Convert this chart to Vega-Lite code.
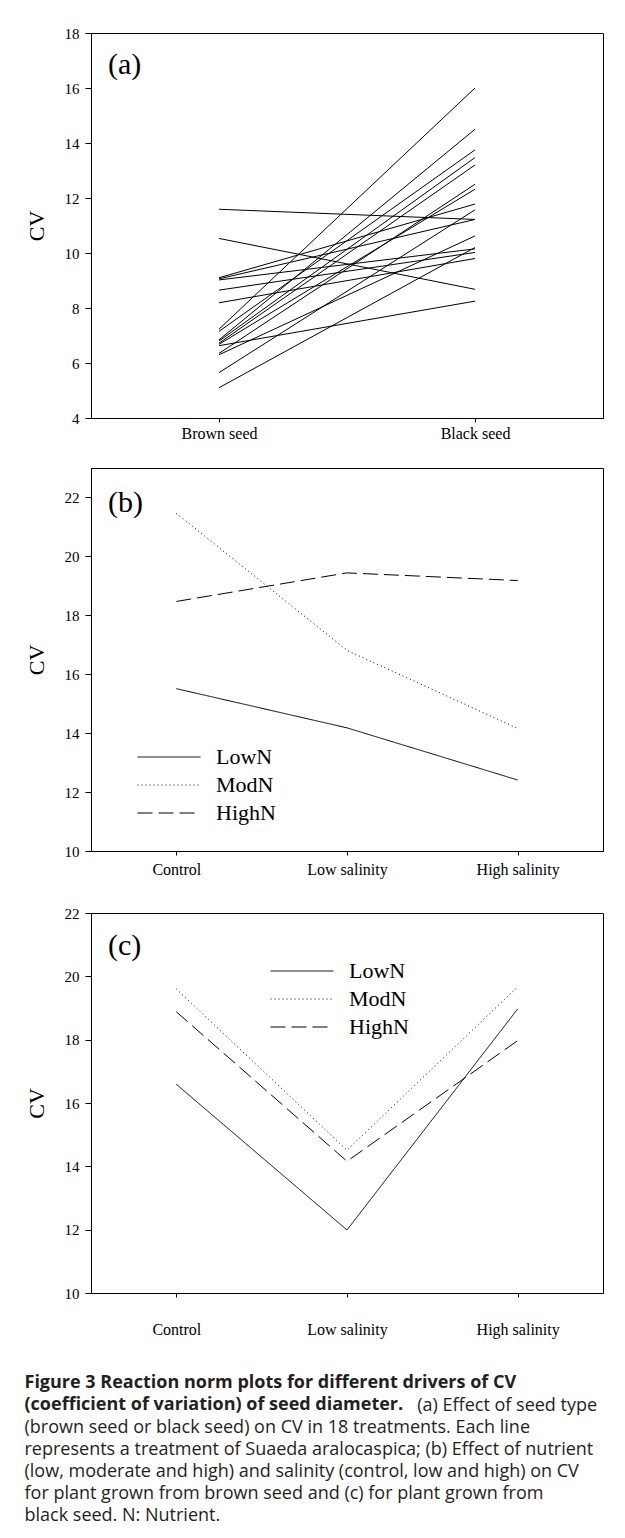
{
  "$schema": "https://vega.github.io/schema/vega-lite/v6.json",
  "padding": {"left": 24, "top": 25, "right": 5, "bottom": 5},
  "background": "white",
  "config": {
    "view": {"stroke": "black", "strokeWidth": 1},
    "axis": {"grid": false, "domainColor": "black", "tickColor": "black", "labelColor": "black", "titleColor": "black", "labelFont": "Liberation Serif", "titleFont": "Liberation Serif", "titleFontWeight": "normal"},
    "axisY": {"labelFontSize": 15, "tickSize": 6, "labelPadding": 6, "titleFontSize": 22, "titlePadding": 16},
    "axisX": {"labelFontSize": 16, "tickSize": 4, "labelAngle": 0},
    "legend": {"title": null, "orient": "none", "labelFont": "Liberation Serif", "labelFontSize": 22, "labelColor": "black", "symbolType": "M-3,0H3", "symbolSize": 441, "symbolStrokeWidth": 1, "symbolStrokeColor": "black", "labelOffset": 36, "rowPadding": 6, "padding": 0},
    "title": {"font": "Liberation Serif", "fontSize": 30, "fontWeight": "normal", "anchor": "start", "color": "black", "frame": "group", "dx": 17, "baseline": "alphabetic"}
  },
  "title": {
    "text": ["Figure 3 Reaction norm plots for different drivers of CV", "(coefficient of variation) of seed diameter."],
    "subtitle": ["\u200b\u00a0\u00a0\u00a0\u00a0\u00a0\u00a0\u00a0\u00a0\u00a0\u00a0\u00a0\u00a0\u00a0\u00a0\u00a0\u00a0\u00a0\u00a0\u00a0\u00a0\u00a0\u00a0\u00a0\u00a0\u00a0\u00a0\u00a0\u00a0\u00a0\u00a0\u00a0\u00a0\u00a0\u00a0\u00a0\u00a0\u00a0\u00a0\u00a0\u00a0\u00a0\u00a0\u00a0\u00a0\u00a0\u00a0\u00a0\u00a0\u00a0\u00a0\u00a0\u00a0\u00a0\u00a0\u00a0\u00a0\u00a0\u00a0\u00a0\u00a0\u00a0\u00a0\u00a0\u00a0\u00a0\u00a0\u00a0\u00a0\u00a0\u00a0\u00a0\u00a0\u00a0\u00a0\u00a0\u00a0\u00a0\u00a0\u00a0\u00a0\u00a0\u00a0\u00a0\u00a0(a) Effect of seed type", "(brown seed or black seed) on CV in 18 treatments. Each line", "represents a treatment of Suaeda aralocaspica; (b) Effect of nutrient", "(low, moderate and high) and salinity (control, low and high) on CV", "for plant grown from brown seed and (c) for plant grown from", "black seed. N: Nutrient."],
    "orient": "bottom",
    "anchor": "start",
    "frame": "bounds",
    "baseline": "top",
    "font": "Open Sans",
    "fontSize": 18,
    "fontWeight": "bold",
    "color": "#231f20",
    "lineHeight": 22,
    "subtitleFont": "Open Sans",
    "subtitleFontSize": 18,
    "subtitleFontWeight": "normal",
    "subtitleColor": "#231f20",
    "subtitleLineHeight": 22,
    "subtitlePadding": -17,
    "offset": 36,
    "dx": 0,
    "dy": 0
  },
  "spacing": 25,
  "resolve": {"scale": {"strokeDash": "independent"}, "legend": {"strokeDash": "independent"}},
  "vconcat": [
    {
      "width": 512,
      "height": 385,
      "title": {"text": "(a)", "offset": -54},
      "data": {"values": [
        {"treatment": 1, "seed": "Brown seed", "CV": 11.59}, {"treatment": 1, "seed": "Black seed", "CV": 11.22},
        {"treatment": 2, "seed": "Brown seed", "CV": 10.53}, {"treatment": 2, "seed": "Black seed", "CV": 8.68},
        {"treatment": 3, "seed": "Brown seed", "CV": 9.10}, {"treatment": 3, "seed": "Black seed", "CV": 11.78},
        {"treatment": 4, "seed": "Brown seed", "CV": 9.06}, {"treatment": 4, "seed": "Black seed", "CV": 11.22},
        {"treatment": 5, "seed": "Brown seed", "CV": 9.02}, {"treatment": 5, "seed": "Black seed", "CV": 10.15},
        {"treatment": 6, "seed": "Brown seed", "CV": 8.65}, {"treatment": 6, "seed": "Black seed", "CV": 10.02},
        {"treatment": 7, "seed": "Brown seed", "CV": 8.19}, {"treatment": 7, "seed": "Black seed", "CV": 9.80},
        {"treatment": 8, "seed": "Brown seed", "CV": 7.23}, {"treatment": 8, "seed": "Black seed", "CV": 16.0},
        {"treatment": 9, "seed": "Brown seed", "CV": 7.15}, {"treatment": 9, "seed": "Black seed", "CV": 13.75},
        {"treatment": 10, "seed": "Brown seed", "CV": 6.84}, {"treatment": 10, "seed": "Black seed", "CV": 14.50},
        {"treatment": 11, "seed": "Brown seed", "CV": 6.80}, {"treatment": 11, "seed": "Black seed", "CV": 13.47},
        {"treatment": 12, "seed": "Brown seed", "CV": 6.72}, {"treatment": 12, "seed": "Black seed", "CV": 13.2},
        {"treatment": 13, "seed": "Brown seed", "CV": 6.68}, {"treatment": 13, "seed": "Black seed", "CV": 12.32},
        {"treatment": 14, "seed": "Brown seed", "CV": 6.63}, {"treatment": 14, "seed": "Black seed", "CV": 8.25},
        {"treatment": 15, "seed": "Brown seed", "CV": 6.35}, {"treatment": 15, "seed": "Black seed", "CV": 12.5},
        {"treatment": 16, "seed": "Brown seed", "CV": 6.30}, {"treatment": 16, "seed": "Black seed", "CV": 10.62},
        {"treatment": 17, "seed": "Brown seed", "CV": 5.65}, {"treatment": 17, "seed": "Black seed", "CV": 11.57},
        {"treatment": 18, "seed": "Brown seed", "CV": 5.10}, {"treatment": 18, "seed": "Black seed", "CV": 10.2}
      ]},
      "mark": {"type": "line", "color": "black", "strokeWidth": 1},
      "encoding": {
        "x": {"field": "seed", "type": "nominal", "sort": ["Brown seed", "Black seed"], "scale": {"type": "point", "padding": 0.5}, "axis": {"title": null, "labelPadding": 3}},
        "y": {"field": "CV", "type": "quantitative", "scale": {"domain": [4, 18], "nice": false, "zero": false}, "axis": {"values": [4, 6, 8, 10, 12, 14, 16, 18], "title": "CV"}},
        "detail": {"field": "treatment", "type": "nominal"}
      }
    },
    {
      "spacing": 27,
      "resolve": {"scale": {"strokeDash": "independent"}, "legend": {"strokeDash": "independent"}},
      "vconcat": [
        {
          "width": 512,
          "height": 383,
          "title": {"text": "(b)", "offset": -50},
          "data": {"values": [
            {"N": "LowN", "salinity": "Control", "CV": 15.51}, {"N": "LowN", "salinity": "Low salinity", "CV": 14.18}, {"N": "LowN", "salinity": "High salinity", "CV": 12.41},
            {"N": "ModN", "salinity": "Control", "CV": 21.46}, {"N": "ModN", "salinity": "Low salinity", "CV": 16.81}, {"N": "ModN", "salinity": "High salinity", "CV": 14.16},
            {"N": "HighN", "salinity": "Control", "CV": 18.47}, {"N": "HighN", "salinity": "Low salinity", "CV": 19.44}, {"N": "HighN", "salinity": "High salinity", "CV": 19.18}
          ]},
          "mark": {"type": "line", "color": "black", "strokeWidth": 1},
          "encoding": {
            "x": {"field": "salinity", "type": "nominal", "sort": ["Control", "Low salinity", "High salinity"], "scale": {"type": "point", "padding": 0.5}, "axis": {"title": null, "labelPadding": 6}},
            "y": {"field": "CV", "type": "quantitative", "scale": {"domain": [10, 23], "nice": false, "zero": false}, "axis": {"values": [10, 12, 14, 16, 18, 20, 22], "title": "CV"}},
            "strokeDash": {"field": "N", "type": "nominal", "sort": ["LowN", "ModN", "HighN"], "scale": {"domain": ["LowN", "ModN", "HighN"], "range": [[1, 0], [1, 3], [15, 6]]}, "legend": {"legendX": 67, "legendY": 278}}
          }
        },
        {
          "width": 512,
          "height": 380,
          "title": {"text": "(c)", "offset": -55},
          "data": {"values": [
            {"N": "LowN", "salinity": "Control", "CV": 16.59}, {"N": "LowN", "salinity": "Low salinity", "CV": 11.99}, {"N": "LowN", "salinity": "High salinity", "CV": 18.97},
            {"N": "ModN", "salinity": "Control", "CV": 19.6}, {"N": "ModN", "salinity": "Low salinity", "CV": 14.51}, {"N": "ModN", "salinity": "High salinity", "CV": 19.67},
            {"N": "HighN", "salinity": "Control", "CV": 18.88}, {"N": "HighN", "salinity": "Low salinity", "CV": 14.16}, {"N": "HighN", "salinity": "High salinity", "CV": 17.97}
          ]},
          "mark": {"type": "line", "color": "black", "strokeWidth": 1},
          "encoding": {
            "x": {"field": "salinity", "type": "nominal", "sort": ["Control", "Low salinity", "High salinity"], "scale": {"type": "point", "padding": 0.5}, "axis": {"title": null, "labelPadding": 24}},
            "y": {"field": "CV", "type": "quantitative", "scale": {"domain": [10, 22], "nice": false, "zero": false}, "axis": {"values": [10, 12, 14, 16, 18, 20, 22], "title": "CV"}},
            "strokeDash": {"field": "N", "type": "nominal", "sort": ["LowN", "ModN", "HighN"], "scale": {"domain": ["LowN", "ModN", "HighN"], "range": [[1, 0], [1, 3], [15, 6]]}, "legend": {"legendX": 200, "legendY": 47}}
          }
        }
      ]
    }
  ]
}
